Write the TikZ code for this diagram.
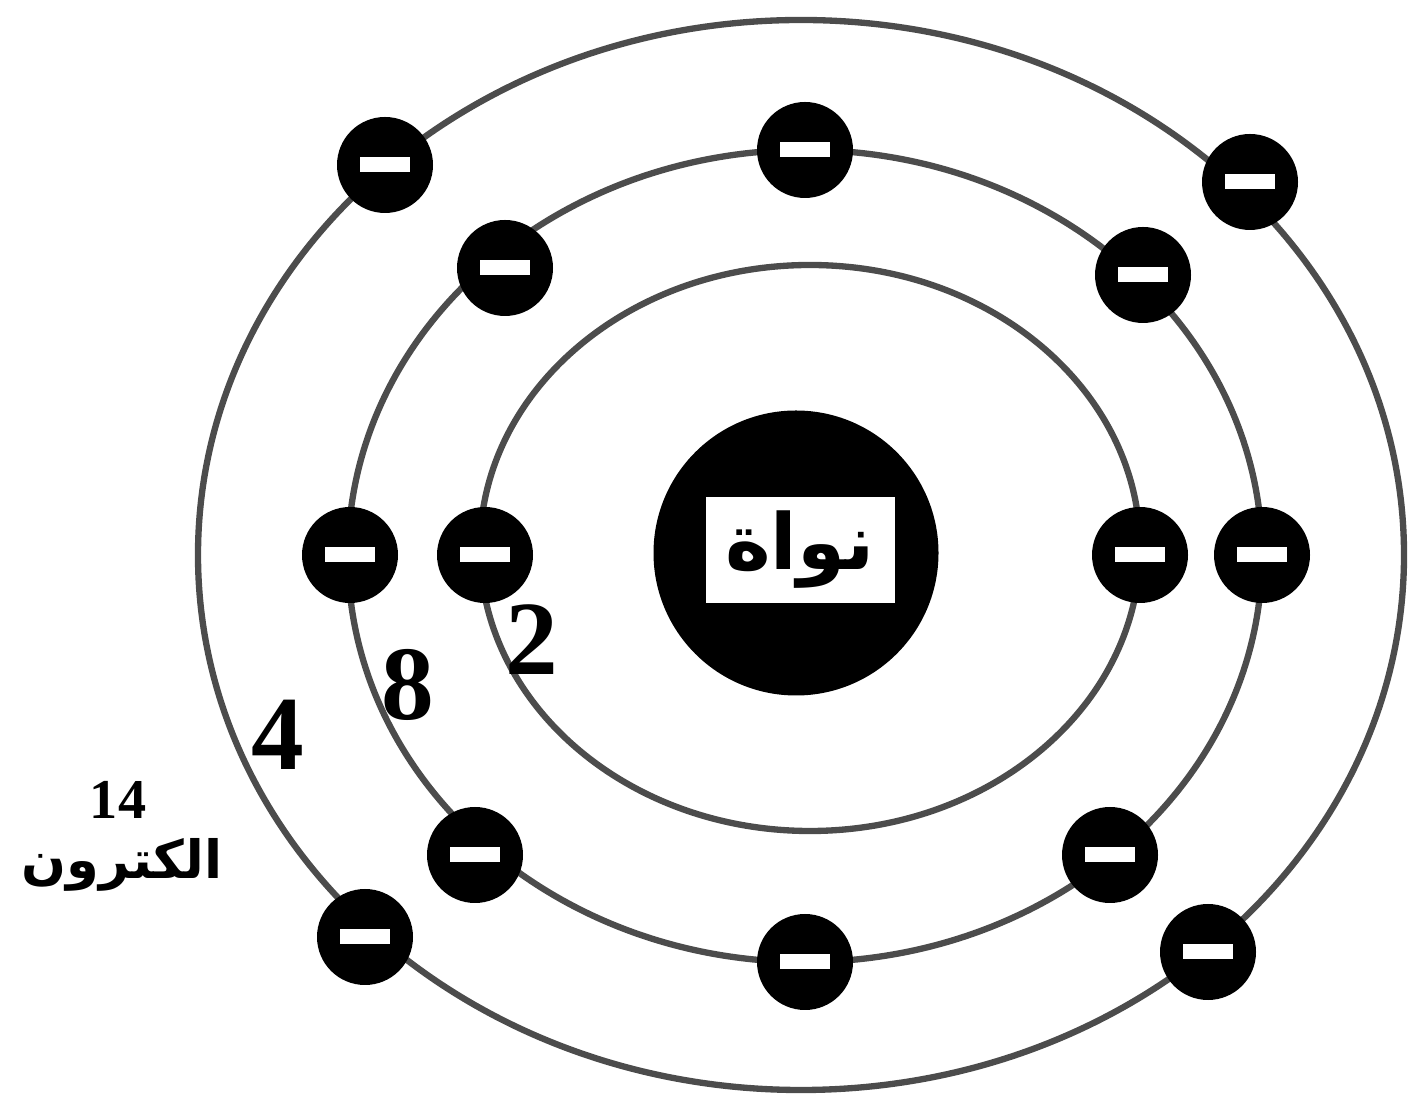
\documentclass[tikz,border=0pt]{standalone}
\usepackage{fontspec}
\setmainfont{Liberation Serif}
\newfontfamily\arabicfont[Script=Arabic]{DejaVu Sans}
\TeXXeTstate=1
\usepackage{tikz}
\usetikzlibrary{positioning}
\tikzset{
  orbit/.style={draw=black!70,line width=1.8pt},
  elec/.style={circle,fill=black,inner sep=0pt,minimum size=9.6mm},
  core/.style={circle,fill=black,inner sep=0pt,minimum size=2.85cm},
}
\tikzset{num/.style={font=\bfseries\fontsize{30}{30}\selectfont,inner sep=0pt}, ar/.style={font=\arabicfont\bfseries\fontsize{15}{15}\selectfont,inner sep=0pt}}
\newcommand{\elbar}{\textcolor{white}{\rule{5mm}{1.5mm}}}

\begin{document}
\begin{tikzpicture}
\useasboundingbox (0,0) rectangle (14.15,11.03);
\draw[orbit] (8.10,5.55) ellipse (3.30 and 2.83);
\draw[orbit] (8.05,5.47) ellipse (4.57 and 4.06);
\draw[orbit] (8.01,5.48) ellipse (6.03 and 5.35);
\node[core](nuc) at (7.96,5.50){};
\node[fill=white,minimum width=1.89cm,minimum height=1.06cm,inner sep=0pt,font=\arabicfont\bfseries\fontsize{22}{22}\selectfont](nlab) at (8.00,5.53){\beginR نواة\endR};
% inner shell
\node[elec](i1) at (4.85,5.48){\elbar};\node[elec](i2) at (11.40,5.48){\elbar};
% middle shell
\node[elec](m1) at (8.05,9.53){\elbar};\node[elec](m2) at (5.05,8.35){\elbar};\node[elec](m3) at (11.43,8.28){\elbar};
\node[elec](m4) at (3.50,5.48){\elbar};\node[elec](m5) at (12.62,5.48){\elbar};
\node[elec](m6) at (4.75,2.48){\elbar};\node[elec](m7) at (11.10,2.48){\elbar};\node[elec](m8) at (8.05,1.41){\elbar};
% outer shell
\node[elec](o1) at (3.85,9.38){\elbar};\node[elec](o2) at (12.50,9.21){\elbar};
\node[elec](o3) at (3.65,1.66){\elbar};\node[elec](o4) at (12.08,1.51){\elbar};
% counts
\node[num](n2) at (5.32,4.63){2};\node[num](n8) at (4.08,4.18){8};\node[num](n4) at (2.78,3.68){4};
\node[num,font=\bfseries\fontsize{16}{16}\selectfont](n14) at (1.18,3.03){14};
\node[ar](el) at (1.22,2.38){\beginR الكترون\endR};
\end{tikzpicture}
\end{document}
